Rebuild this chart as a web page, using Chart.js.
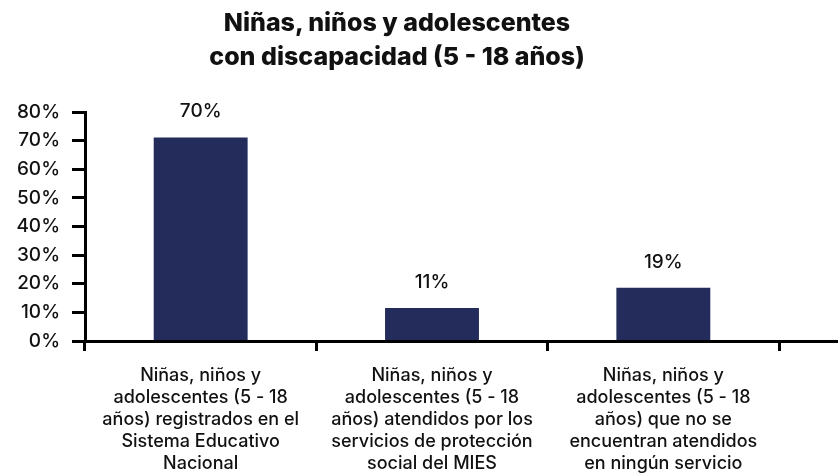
<!DOCTYPE html>
<html>
<head>
<meta charset="utf-8">
<script src="https://cdn.jsdelivr.net/npm/chart.js@4"></script>
<style>
  body { margin: 0; background: #fff; }
  #wrap { position: relative; width: 838px; height: 473px; }
  #title {
    position: absolute; left: 0; top: 5px; width: 794px;
    text-align: center; font-family: Inter, sans-serif; font-weight: 800;
    font-size: 25px; line-height: 34px; color: #111;
  }
</style>
</head>
<body>
<div id="wrap">
  <canvas id="chart"></canvas>
  <div id="title">Niñas, niños y adolescentes<br>con discapacidad (5 - 18 años)</div>
</div>
<script>
const categories = [
  ["Niñas, niños y", "adolescentes (5 - 18", "años) registrados en el", "Sistema Educativo", "Nacional"],
  ["Niñas, niños y", "adolescentes (5 - 18", "años) atendidos por los", "servicios de protección", "social del MIES"],
  ["Niñas, niños y", "adolescentes (5 - 18", "años) que no se", "encuentran atendidos", "en ningún servicio"]
];
const values = [71.1, 11.5, 18.6];
const valueLabels = ["70%", "11%", "19%"];
const yMax = 80;
const yStep = 10;

const fontFamily = "Inter, sans-serif";

const valueLabelPlugin = {
  id: "valueLabels",
  afterDatasetsDraw(chart) {
    const ctx = chart.ctx;
    const meta = chart.getDatasetMeta(0);
    ctx.save();
    ctx.font = "500 19px " + fontFamily;
    ctx.fillStyle = "#111";
    ctx.textAlign = "center";
    ctx.textBaseline = "alphabetic";
    meta.data.forEach((bar, i) => {
      ctx.fillText(valueLabels[i], bar.x, bar.y - 20);
    });
    ctx.restore();
  }
};

// x axis line, running on to the right edge of the canvas
const xAxisLinePlugin = {
  id: "xAxisLine",
  afterDraw(chart) {
    const ctx = chart.ctx;
    const y = Math.round(chart.scales.y.getPixelForValue(0));
    const left = Math.round(chart.chartArea.left) - 2;
    ctx.save();
    ctx.fillStyle = "#000";
    ctx.fillRect(left, y - 1, chart.width - left, 3);
    ctx.restore();
  }
};

new Chart(document.getElementById("chart"), {
  type: "bar",
  data: {
    labels: categories,
    datasets: [{
      data: values,
      backgroundColor: "#232C5A",
      categoryPercentage: 1,
      barPercentage: 0.406
    }]
  },
  options: {
    responsive: true,
    maintainAspectRatio: false,
    animation: false,
    layout: { padding: { top: 112, right: 59, bottom: 0, left: 0 } },
    plugins: {
      legend: { display: false },
      title: { display: false },
      tooltip: { enabled: false }
    },
    scales: {
      x: {
        afterFit: s => { s.height = 132; },
        border: { display: false },
        grid: {
          offset: true, drawOnChartArea: false, drawTicks: true,
          tickLength: 10, tickWidth: 3, tickColor: "#000"
        },
        ticks: {
          color: "#111", padding: 14, maxRotation: 0, autoSkip: false,
          font: { family: fontFamily, size: 18, weight: 500, lineHeight: 1.22 }
        }
      },
      y: {
        min: 0,
        max: yMax,
        afterFit: s => { s.width = 85; },
        border: { display: true, color: "#000", width: 3 },
        grid: {
          drawOnChartArea: false, drawTicks: true,
          tickLength: 13, tickWidth: 3, tickColor: "#000"
        },
        ticks: {
          stepSize: yStep, color: "#111", padding: 12,
          font: { family: fontFamily, size: 19, weight: 500 },
          callback: v => v + "%"
        }
      }
    }
  },
  plugins: [valueLabelPlugin, xAxisLinePlugin]
});
</script>
</body>
</html>
